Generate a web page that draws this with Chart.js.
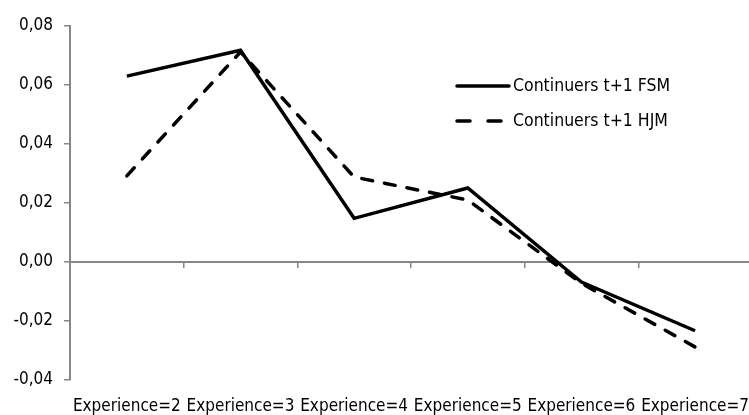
<!DOCTYPE html>
<html>
<head>
<meta charset="utf-8">
<script src="https://cdn.jsdelivr.net/npm/chart.js@4/dist/chart.umd.min.js"></script>
<style>
  html, body { margin: 0; padding: 0; background: #fff; overflow: hidden; }
</style>
</head>
<body>
<canvas id="chart" width="757" height="415"></canvas>
<script>
// data
var categories = ['Experience=2', 'Experience=3', 'Experience=4', 'Experience=5', 'Experience=6', 'Experience=7'];
var fsm = [0.063, 0.0718, 0.0148, 0.0251, -0.0068, -0.0233];
var hjm = [0.0292, 0.0712, 0.0288, 0.0210, -0.0072, -0.0288];
var seriesNames = ['Continuers t+1 FSM', 'Continuers t+1 HJM'];

var fontFamily = '"DejaVu Sans Condensed", "DejaVu Sans", sans-serif';

// legend drawn inside the plot, like the original
var insideLegend = {
    id: 'insideLegend',
    afterDraw: function (chart) {
        var ctx = chart.ctx;
        var sets = chart.data.datasets;
        ctx.save();
        ctx.font = '17.5px ' + fontFamily;
        ctx.textBaseline = 'middle';
        for (var i = 0; i < sets.length; i++) {
            var y = 86 + i * 35;
            ctx.beginPath();
            ctx.lineWidth = 3.5;
            ctx.lineCap = 'round';
            ctx.strokeStyle = sets[i].borderColor;
            ctx.setLineDash(i == 1 ? [13, 18] : []);
            ctx.moveTo(457, y);
            ctx.lineTo(509, y);
            ctx.stroke();
            ctx.setLineDash([]);
            ctx.fillStyle = '#000';
            ctx.fillText(sets[i].label, 513, y);
        }
        ctx.restore();
    }
};

var ctx = document.getElementById('chart').getContext('2d');
var mychart = new Chart(ctx, {
    type: 'line',
    data: {
        labels: categories,
        datasets: [{
            label: seriesNames[0],
            data: fsm,
            borderColor: '#000',
            borderWidth: 3.5,
            pointRadius: 0,
            tension: 0,
            borderJoinStyle: 'miter'
        }, {
            label: seriesNames[1],
            data: hjm,
            borderColor: '#000',
            borderWidth: 3.5,
            borderDash: [11, 12],
            borderCapStyle: 'round',
            pointRadius: 0,
            tension: 0
        }]
    },
    options: {
        responsive: false,
        animation: false,
        devicePixelRatio: 1,
        layout: { padding: { top: 26, right: 0, bottom: 0, left: 0 } },
        plugins: {
            legend: { display: false },
            tooltip: { enabled: false }
        },
        scales: {
            x: {
                offset: true,
                grid: { display: false },
                border: { display: false },
                ticks: {
                    color: '#000',
                    font: { family: fontFamily, size: 17 },
                    maxRotation: 0,
                    autoSkip: false,
                    padding: 8
                },
                afterFit: function (scale) { scale.height = 35; }
            },
            x2: {
                type: 'category',
                labels: categories,
                offset: true,
                position: { y: 0 },
                grid: {
                    offset: true,
                    drawOnChartArea: false,
                    tickLength: 5,
                    color: '#868686',
                    lineWidth: 1.5
                },
                border: { color: '#868686', width: 2 },
                ticks: { display: false }
            },
            y: {
                min: -0.04,
                max: 0.08,
                ticks: {
                    stepSize: 0.02,
                    color: '#000',
                    padding: 11,
                    font: { family: fontFamily, size: 17 },
                    callback: function (v) { return v.toFixed(2).replace('.', ','); }
                },
                grid: {
                    drawOnChartArea: false,
                    tickLength: 6,
                    color: '#868686',
                    lineWidth: 1.5
                },
                border: { color: '#868686', width: 2 },
                afterFit: function (scale) { scale.width = 70; }
            }
        }
    },
    plugins: [insideLegend]
});
</script>
</body>
</html>
